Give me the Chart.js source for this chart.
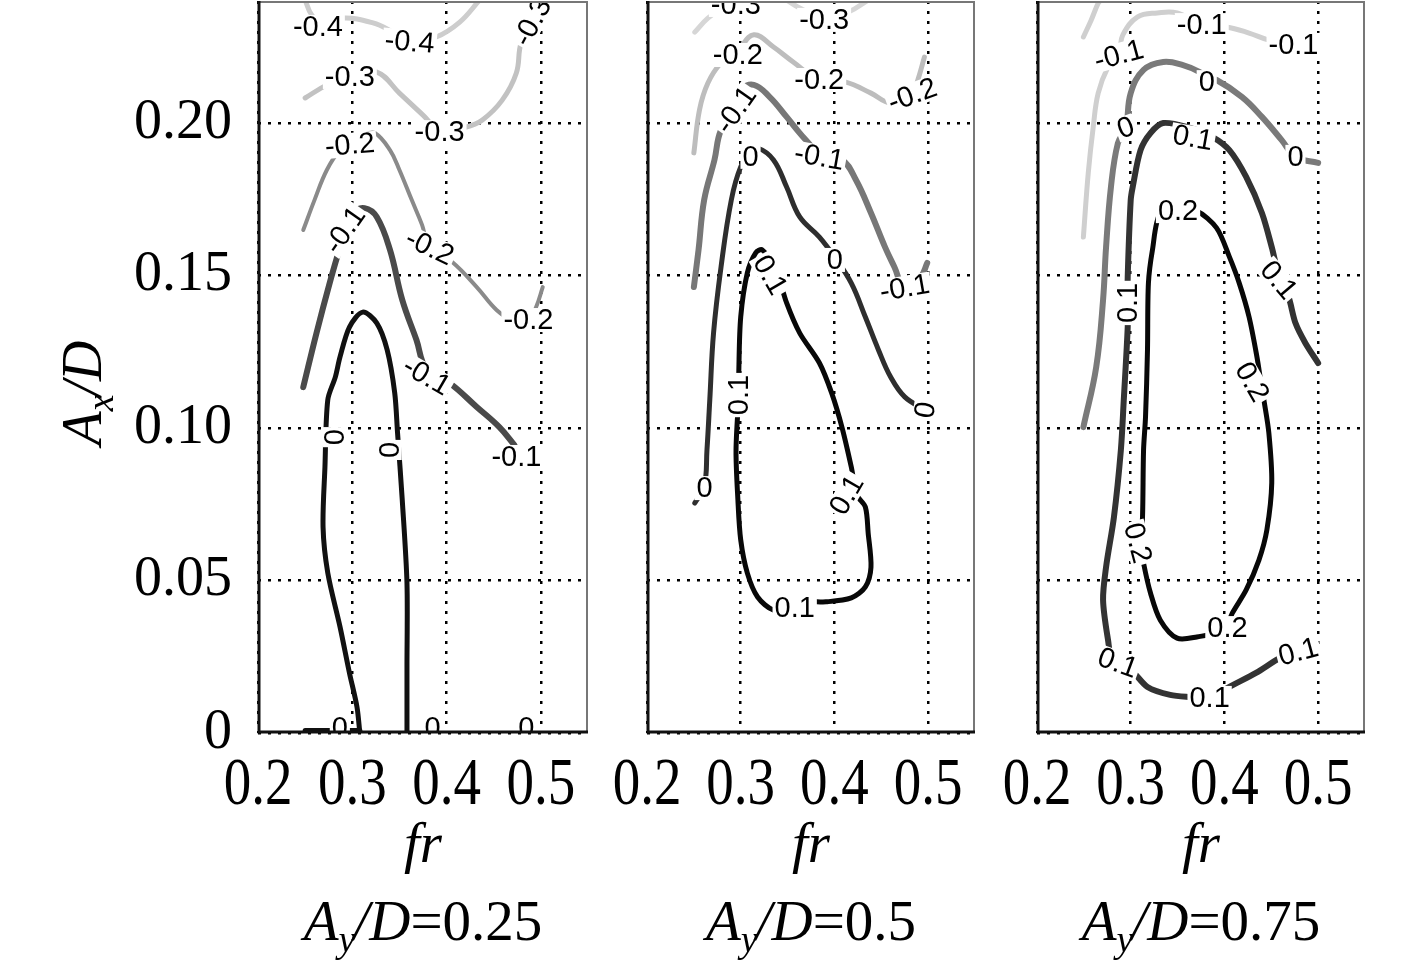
<!DOCTYPE html>
<html><head><meta charset="utf-8">
<script src="https://cdn.jsdelivr.net/npm/chart.js@4.4.1/dist/chart.umd.min.js"></script>
<style>
html,body{margin:0;padding:0;background:#fff;width:1417px;height:969px;overflow:hidden}
.p{position:absolute;top:0;height:969px}
</style></head><body>
<div class="p" style="left:0;width:600px"><canvas id="c1" width="600" height="969"></canvas></div>
<div class="p" style="left:600px;width:390px"><canvas id="c2" width="390" height="969"></canvas></div>
<div class="p" style="left:990px;width:427px"><canvas id="c3" width="427" height="969"></canvas></div>
<script>
// ---- axes ----
const frTicks = [0.2, 0.3, 0.4, 0.5];
const frTickLabels = ['0.2', '0.3', '0.4', '0.5'];
const axTicks = [0, 0.05, 0.10, 0.15, 0.20];
const axTickLabels = ['0', '0.05', '0.10', '0.15', '0.20'];
const ayValues = ['0.25', '0.5', '0.75'];

// ---- panel 1 (Ay/D = 0.25): contour lines [fr, Ax/D] ----
const p1_m04 = [[0.250,0.2403],[0.257,0.2354],[0.271,0.2321],[0.290,0.2344],[0.322,0.2328],[0.343,0.2298],[0.361,0.2266],[0.389,0.2282],[0.414,0.2331],[0.435,0.2403]];
const p1_m03 = [[0.250,0.2082],[0.273,0.2125],[0.297,0.2157],[0.326,0.2167],[0.350,0.2098],[0.375,0.2026],[0.393,0.1977],[0.421,0.1987],[0.438,0.2010],[0.459,0.2075],[0.474,0.2164],[0.479,0.2262],[0.491,0.2331],[0.504,0.2403]];
const p1_m02 = [[0.248,0.1649],[0.260,0.1748],[0.273,0.1846],[0.287,0.1911],[0.297,0.1928],[0.313,0.1961],[0.324,0.1967],[0.340,0.1911],[0.350,0.1846],[0.363,0.1748],[0.374,0.1666],[0.382,0.1593],[0.406,0.1544],[0.432,0.1462],[0.453,0.1387],[0.470,0.1354],[0.487,0.1354],[0.495,0.1397],[0.502,0.1462]];
const p1_m01 = [[0.248,0.1134],[0.262,0.1311],[0.276,0.1475],[0.287,0.1593],[0.292,0.1643],[0.301,0.1705],[0.313,0.1721],[0.326,0.1692],[0.340,0.1584],[0.353,0.1420],[0.368,0.1289],[0.379,0.1190],[0.403,0.1148],[0.432,0.1069],[0.456,0.1003],[0.472,0.0944]];
const p1_z0 = [[0.308,0],[0.305,0.0085],[0.297,0.0197],[0.287,0.0348],[0.274,0.0525],[0.269,0.0675],[0.271,0.0872],[0.274,0.1092],[0.282,0.1167],[0.287,0.1233],[0.297,0.1331],[0.311,0.1380],[0.326,0.1344],[0.337,0.1256],[0.345,0.1115],[0.348,0.0984],[0.353,0.0764],[0.358,0.0492],[0.358,0.0216],[0.358,0]];
const p1_z0base = [[0.250,0.0008],[0.308,0.0008]];
const p1_labels = [[0.2635,0.2315,'-0.4'],[0.3608,0.2266,'-0.4'],[0.2974,0.2151,'-0.3'],[0.3926,0.1970,'-0.3'],[0.4910,0.2331,'-0.3'],[0.2974,0.1928,'-0.2'],[0.3820,0.1593,'-0.2'],[0.4868,0.1354,'-0.2'],[0.2921,0.1649,'-0.1'],[0.3788,0.1170,'-0.1'],[0.4741,0.0905,'-0.1'],[0.2815,0.0970,'0'],[0.3397,0.0928,'0'],[0.2868,0.0018,'0'],[0.3852,0.0018,'0'],[0.4847,0.0018,'0']];
const p1_labelAngles = [0,5,0,0,-62,-5,25,0,-55,30,0,-90,-90,0,0,0];

// ---- panel 2 (Ay/D = 0.5) ----
const p2_m03a = [[0.251,0.2298],[0.265,0.2344],[0.281,0.2377],[0.297,0.2393],[0.311,0.2403]];
const p2_m03b = [[0.349,0.2403],[0.363,0.2377],[0.389,0.2344],[0.415,0.2364],[0.436,0.2403]];
const p2_m02 = [[0.250,0.1902],[0.256,0.2043],[0.265,0.2131],[0.279,0.2197],[0.297,0.2239],[0.314,0.2289],[0.335,0.2249],[0.356,0.2200],[0.384,0.2141],[0.412,0.2134],[0.439,0.2098],[0.460,0.2066],[0.483,0.2092],[0.489,0.2141],[0.496,0.2216]];
const p2_m01 = [[0.250,0.1462],[0.255,0.1584],[0.261,0.1748],[0.272,0.1879],[0.279,0.1977],[0.295,0.2043],[0.300,0.2108],[0.314,0.2125],[0.331,0.2085],[0.349,0.2020],[0.363,0.1967],[0.376,0.1921],[0.384,0.1889],[0.408,0.1879],[0.423,0.1813],[0.439,0.1705],[0.454,0.1593],[0.464,0.1528],[0.475,0.1459],[0.492,0.1495],[0.499,0.1541]];
const p2_z0 = [[0.251,0.0754],[0.261,0.0807],[0.264,0.0928],[0.267,0.1092],[0.271,0.1311],[0.279,0.1528],[0.290,0.1748],[0.300,0.1856],[0.311,0.1905],[0.318,0.1918],[0.335,0.1879],[0.349,0.1790],[0.363,0.1692],[0.384,0.1626],[0.401,0.1557],[0.418,0.1475],[0.433,0.1364],[0.447,0.1256],[0.460,0.1167],[0.475,0.1102],[0.497,0.1059]];
const p2_p01 = [[0.298,0.1108],[0.298,0.1190],[0.300,0.1364],[0.307,0.1508],[0.316,0.1574],[0.323,0.1584],[0.337,0.1525],[0.349,0.1410],[0.363,0.1311],[0.384,0.1213],[0.397,0.1115],[0.408,0.1003],[0.418,0.0872],[0.424,0.0780],[0.433,0.0741],[0.436,0.0656],[0.439,0.0544],[0.433,0.0479],[0.418,0.0443],[0.391,0.0430],[0.370,0.0430],[0.352,0.0413],[0.335,0.0403],[0.318,0.0446],[0.307,0.0525],[0.300,0.0633],[0.297,0.0764],[0.295,0.0928],[0.298,0.1108]];
const p2_labels = [[0.2948,0.2387,'-0.3'],[0.3890,0.2338,'-0.3'],[0.2969,0.2223,'-0.2'],[0.3838,0.2141,'-0.2'],[0.4832,0.2092,'-0.2'],[0.2948,0.2043,'-0.1'],[0.3838,0.1889,'-0.1'],[0.4749,0.1459,'-0.1'],[0.3105,0.1889,'0'],[0.4005,0.1551,'0'],[0.4969,0.1059,'0'],[0.2613,0.0803,'0'],[0.3314,0.1502,'0.1'],[0.4131,0.0780,'0.1'],[0.3576,0.0410,'0.1'],[0.2979,0.1108,'0.1']];
const p2_labelAngles = [0,0,0,0,-20,-55,10,-10,0,0,-80,0,60,-60,0,-90];

// ---- panel 3 (Ay/D = 0.75) ----
const p3_m01a = [[0.2495,0.2282],[0.2579,0.2338],[0.2653,0.2393],[0.2680,0.2403]];
const p3_m01b = [[0.2495,0.1626],[0.2547,0.1836],[0.2600,0.1987],[0.2653,0.2098],[0.2758,0.2184],[0.2874,0.2233],[0.2916,0.2289],[0.3074,0.2348],[0.3284,0.2361],[0.3495,0.2361],[0.3758,0.2321],[0.4021,0.2315],[0.4263,0.2295],[0.4474,0.2272],[0.4737,0.2256]];
const p3_z0 = [[0.2495,0.1003],[0.2632,0.1200],[0.2705,0.1420],[0.2737,0.1593],[0.2789,0.1790],[0.2863,0.1934],[0.2947,0.1984],[0.3000,0.2098],[0.3137,0.2174],[0.3347,0.2200],[0.3558,0.2190],[0.3737,0.2167],[0.3811,0.2147],[0.3916,0.2141],[0.4189,0.2085],[0.4400,0.2020],[0.4611,0.1944],[0.4758,0.1889],[0.5000,0.1869]];
const p3_p01 = [[0.4789,0.0266],[0.4611,0.0249],[0.4337,0.0197],[0.4053,0.0151],[0.3842,0.0115],[0.3632,0.0118],[0.3421,0.0125],[0.3179,0.0151],[0.3000,0.0207],[0.2811,0.0233],[0.2758,0.0305],[0.2705,0.0436],[0.2737,0.0544],[0.2821,0.0708],[0.2895,0.0928],[0.2926,0.1092],[0.2968,0.1331],[0.2968,0.1410],[0.2968,0.1495],[0.3000,0.1748],[0.3021,0.1790],[0.3105,0.1911],[0.3211,0.1967],[0.3347,0.2000],[0.3632,0.1984],[0.3874,0.1954],[0.4053,0.1911],[0.4232,0.1823],[0.4400,0.1705],[0.4505,0.1593],[0.4579,0.1502],[0.4684,0.1430],[0.4758,0.1344],[0.4863,0.1279],[0.5000,0.1213]];
const p3_p02 = [[0.3505,0.1711],[0.3705,0.1711],[0.3916,0.1656],[0.4053,0.1561],[0.4158,0.1475],[0.4263,0.1364],[0.4347,0.1233],[0.4389,0.1151],[0.4421,0.1092],[0.4474,0.0984],[0.4505,0.0820],[0.4453,0.0666],[0.4368,0.0567],[0.4232,0.0469],[0.4084,0.0393],[0.4000,0.0338],[0.3705,0.0315],[0.3495,0.0311],[0.3316,0.0370],[0.3211,0.0459],[0.3137,0.0557],[0.3105,0.0623],[0.3126,0.0708],[0.3137,0.0928],[0.3158,0.1036],[0.3179,0.1256],[0.3189,0.1475],[0.3232,0.1584],[0.3316,0.1705],[0.3505,0.1711]];
const p3_labels = [[0.2874,0.2223,'-0.1'],[0.3758,0.2321,'-0.1'],[0.4737,0.2256,'-0.1'],[0.2947,0.1984,'0'],[0.3811,0.2134,'0'],[0.4758,0.1889,'0'],[0.3663,0.1951,'0.1'],[0.4579,0.1485,'0.1'],[0.2968,0.1410,'0.1'],[0.2863,0.0230,'0.1'],[0.3842,0.0115,'0.1'],[0.4789,0.0266,'0.1'],[0.3505,0.1711,'0.2'],[0.4295,0.1151,'0.2'],[0.3074,0.0623,'0.2'],[0.4032,0.0344,'0.2']];
const p3_labelAngles = [-15,0,0,-20,0,0,10,50,-90,20,0,-15,0,60,75,0];

// ---- helpers ----
const SERIF = '"Liberation Serif","Times New Roman",serif';
const SANS = '"Liberation Sans",Arial,sans-serif';

function line(points, color, width, tension) {
  return {
    data: points.map(p => ({x: p[0], y: p[1]})),
    showLine: true, borderColor: color, borderWidth: width,
    pointRadius: 0, pointHoverRadius: 0, fill: false,
    tension: tension === undefined ? 0.4 : tension,
    borderCapStyle: 'round', borderJoinStyle: 'round'
  };
}

function drawRich(ctx, parts, cx, baseline) {
  let total = 0;
  parts.forEach(p => { ctx.font = p.font; p.w = ctx.measureText(p.t).width; total += p.w + (p.kern || 0); });
  let x = cx - total / 2;
  ctx.textAlign = 'left'; ctx.textBaseline = 'alphabetic'; ctx.fillStyle = '#000';
  parts.forEach(p => { ctx.font = p.font; ctx.fillText(p.t, x, baseline + (p.dy || 0)); x += p.w + (p.kern || 0); });
}

const panelPlugin = {
  id: 'panel',
  afterDatasetsDraw(chart, args, o) {
    const {ctx, chartArea: a, scales: {x, y}} = chart;
    ctx.save();
    ctx.beginPath(); ctx.rect(a.left, a.top, a.right - a.left, a.bottom - a.top); ctx.clip();
    ctx.font = '29px ' + SANS; ctx.textAlign = 'center'; ctx.textBaseline = 'middle';
    o.labels.forEach((l, i) => {
      const px = x.getPixelForValue(l[0]), py = y.getPixelForValue(l[1]);
      ctx.save(); ctx.translate(px, py); ctx.rotate((o.angles[i] || 0) * Math.PI / 180);
      const w = ctx.measureText(l[2]).width;
      ctx.fillStyle = '#fff'; ctx.fillRect(-w / 2 - 2, -12, w + 4, 24);
      ctx.fillStyle = '#000'; ctx.fillText(l[2], 0, 1);
      ctx.restore();
    });
    ctx.restore();
  },
  afterDraw(chart, args, o) {
    const {ctx, chartArea: a, scales: {x}} = chart;
    ctx.save();
    ctx.setLineDash([]);
    ctx.lineWidth = 2; ctx.strokeStyle = '#777';
    ctx.beginPath(); ctx.moveTo(a.left, a.top + 1); ctx.lineTo(a.right - 1, a.top + 1); ctx.lineTo(a.right - 1, a.bottom); ctx.stroke();
    ctx.lineWidth = 3; ctx.strokeStyle = '#111';
    ctx.beginPath(); ctx.moveTo(a.left + 1, a.top); ctx.lineTo(a.left + 1, a.bottom - 1); ctx.lineTo(a.right, a.bottom - 1); ctx.stroke();
    // x tick labels (tall serif digits)
    ctx.fillStyle = '#000'; ctx.textAlign = 'center'; ctx.textBaseline = 'alphabetic';
    ctx.font = '55px ' + SERIF;
    x.ticks.forEach((t) => {
      const px = x.getPixelForValue(t.value);
      ctx.save(); ctx.translate(px, 804); ctx.scale(1, 1.22);
      ctx.fillText(frTickLabels[frTicks.indexOf(Math.round(t.value * 100) / 100)], 0, 0);
      ctx.restore();
    });
    const cx = (a.left + a.right) / 2;
    drawRich(ctx, [{t: 'fr', font: 'italic 57px ' + SERIF}], cx, 862);
    drawRich(ctx, [
      {t: 'A', font: 'italic 57px ' + SERIF},
      {t: 'y', font: 'italic 38px ' + SERIF, dy: 12, kern: -2},
      {t: '/D', font: 'italic 57px ' + SERIF},
      {t: '=' + o.ay, font: '57px ' + SERIF}
    ], cx, 940);
    if (o.yTitle) {
      ctx.save(); ctx.translate(101, 393); ctx.rotate(-Math.PI / 2);
      drawRich(ctx, [
        {t: 'A', font: 'italic 56px ' + SERIF},
        {t: 'x', font: 'italic 38px ' + SERIF, dy: 12, kern: -2},
        {t: '/D', font: 'italic 56px ' + SERIF}
      ], 0, 0);
      ctx.restore();
    }
    ctx.restore();
  }
};

function makeChart(id, datasets, labels, angles, ay, showY, yWidth, padRight) {
  return new Chart(document.getElementById(id), {
    type: 'scatter',
    data: {datasets},
    options: {
      responsive: false, animation: false, events: [],
      layout: {padding: {left: 0, right: padRight, top: 1, bottom: 0}},
      plugins: {legend: {display: false}, tooltip: {enabled: false},
        panel: {labels, angles, ay, yTitle: showY}},
      scales: {
        x: {
          type: 'linear', min: 0.2, max: 0.55,
          afterBuildTicks: s => { s.ticks = frTicks.map(v => ({value: v})); },
          afterFit: s => { s.height = 236; s.paddingLeft = 0; s.paddingRight = 0; },
          grid: {color: '#000', lineWidth: 2.5, drawTicks: false},
          border: {display: false, dash: [3, 7]},
          ticks: {display: false}
        },
        y: {
          type: 'linear', min: 0, max: 0.24,
          afterBuildTicks: s => { s.ticks = axTicks.map(v => ({value: v})); },
          afterFit: s => { s.width = yWidth; s.paddingTop = 0; s.paddingBottom = 0; },
          grid: {color: '#000', lineWidth: 2.5, drawTicks: false},
          border: {display: false, dash: [3, 7]},
          ticks: {
            display: showY, color: '#000', padding: 26,
            font: {family: SERIF, size: 56},
            callback: (v) => axTickLabels[axTicks.indexOf(Math.round(v * 100) / 100)]
          }
        }
      }
    },
    plugins: [panelPlugin]
  });
}

makeChart('c1', [
  line(p1_m04, '#cdcdcd', 5),
  line(p1_m03, '#c2c2c2', 5),
  line(p1_m02, '#8a8a8a', 4),
  line(p1_m01, '#4a4a4a', 6),
  line(p1_z0, '#111111', 5, 0.3),
  line(p1_z0base, '#111111', 5, 0)
], p1_labels, p1_labelAngles, ayValues[0], true, 258, 12);

makeChart('c2', [
  line(p2_m03a, '#d6d6d6', 5),
  line(p2_m03b, '#d6d6d6', 5),
  line(p2_m02, '#bdbdbd', 5),
  line(p2_m01, '#777777', 6),
  line(p2_z0, '#2e2e2e', 5),
  line(p2_p01, '#080808', 5, 0.3)
], p2_labels, p2_labelAngles, ayValues[1], false, 47, 15);

makeChart('c3', [
  line(p3_m01a, '#cfcfcf', 5),
  line(p3_m01b, '#cfcfcf', 5),
  line(p3_z0, '#7a7a7a', 6),
  line(p3_p01, '#333333', 6, 0.3),
  line(p3_p02, '#080808', 5, 0.3)
], p3_labels, p3_labelAngles, ayValues[2], false, 47, 52);
</script>
</body></html>
